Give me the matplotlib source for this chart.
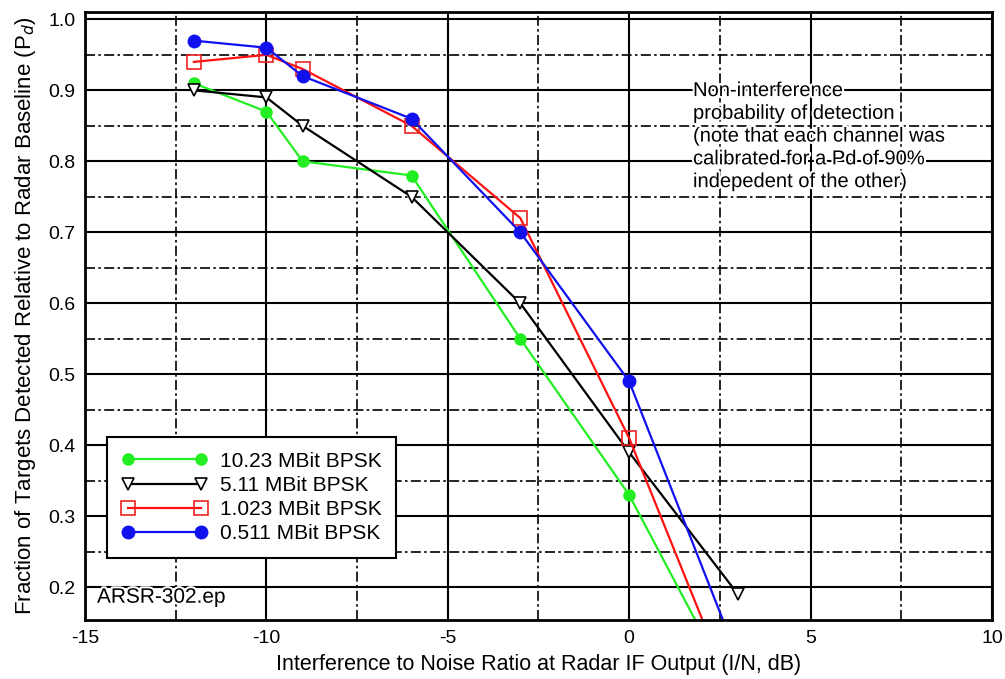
import numpy as np
import matplotlib
matplotlib.use("Agg")
import matplotlib.pyplot as plt
import matplotlib.patheffects as pe

# -----------------------------
# Data
# -----------------------------
x_in = [-12, -10, -9, -6, -3, 0, 3]

pd_10_23 = [0.91, 0.87, 0.80, 0.78, 0.55, 0.33, 0.04]
pd_5_11 = [0.90, 0.89, 0.85, 0.75, 0.60, 0.39, 0.19]
pd_1_023 = [0.94, 0.95, 0.93, 0.85, 0.72, 0.41, 0.03]
pd_0_511 = [0.97, 0.96, 0.92, 0.86, 0.70, 0.49, 0.10]

labels = ["10.23 MBit BPSK", "5.11 MBit BPSK", "1.023 MBit BPSK", "0.511 MBit BPSK"]

x_ticks = [-15, -10, -5, 0, 5, 10]
y_ticks = [0.2, 0.3, 0.4, 0.5, 0.6, 0.7, 0.8, 0.9, 1.0]
x_minor = [-12.5, -7.5, -2.5, 2.5, 7.5]
y_minor = [0.25, 0.35, 0.45, 0.55, 0.65, 0.75, 0.85, 0.95]

note = ("Non-interference\n"
        "probability of detection\n"
        "(note that each channel was\n"
        "calibrated for a Pd of 90%\n"
        "indepedent of the other)")

plt.rcParams['font.family'] = ['Liberation Sans', 'DejaVu Sans']

fig = plt.figure(figsize=(10.05, 6.79), dpi=100)
ax = fig.add_axes([0.0846, 0.087, 0.9024, 0.895])

ax.set_xlim(-15, 10)
ax.set_ylim(0.154, 1.01)

# grid: solid majors, dash-dot minors
ax.set_xticks(x_ticks)
ax.set_yticks(y_ticks)
ax.set_xticks(x_minor, minor=True)
ax.set_yticks(y_minor, minor=True)
ax.grid(True, which='major', color='black', lw=1.5, ls='-')
ax.grid(True, which='minor', color='black', lw=1.2, ls=(0, (6, 2, 1.5, 2)))
ax.tick_params(which='both', length=0, labelsize=14, pad=7)
ax.set_xticklabels([str(v) for v in x_ticks])
ax.set_yticklabels([f"{v:.1f}" for v in y_ticks])
ax.set_axisbelow(True)
for s in ax.spines.values():
    s.set_linewidth(2)

ax.plot(x_in, pd_10_23, color='#22ee22', lw=1.6, marker='o', ms=8,
        mfc='#22ee22', mec='#22ee22', label=labels[0])
ax.plot(x_in, pd_5_11, color='black', lw=1.6, marker='v', ms=9,
        mfc='white', mec='black', mew=1.2, label=labels[1])
ax.plot(x_in, pd_1_023, color='#ff1111', lw=1.6, marker='s', ms=10,
        mfc='none', mec='#ee2222', mew=1.2, label=labels[2])
ax.plot(x_in, pd_0_511, color='#1111ee', lw=1.6, marker='o', ms=9,
        mfc='#1111ee', mec='#1111ee', label=labels[3])

leg = ax.legend(loc='lower left', bbox_to_anchor=(0.0243, 0.102), numpoints=2,
                handlelength=4.1, fontsize=15, frameon=True, fancybox=False,
                borderpad=0.7, labelspacing=0.25, handletextpad=0.6,
                borderaxespad=0)
leg.get_frame().set_edgecolor('black')
leg.get_frame().set_linewidth(1.5)
leg.get_frame().set_alpha(1)

halo = [pe.withStroke(linewidth=3, foreground='white')]
ax.text(1.76, 0.913, note, fontsize=14.5, va='top', ha='left', linespacing=1.25,
        path_effects=halo)
ax.text(-14.67, 0.186, "ARSR-302.ep", fontsize=15, va='center', ha='left',
        path_effects=halo)

ax.set_xlabel("Interference to Noise Ratio at Radar IF Output (I/N, dB)",
              fontsize=15.5, labelpad=5)
ax.set_ylabel("Fraction of Targets Detected Relative to Radar Baseline (P$_d$)",
              fontsize=16, labelpad=7)

fig.savefig("out.png", dpi=100)
